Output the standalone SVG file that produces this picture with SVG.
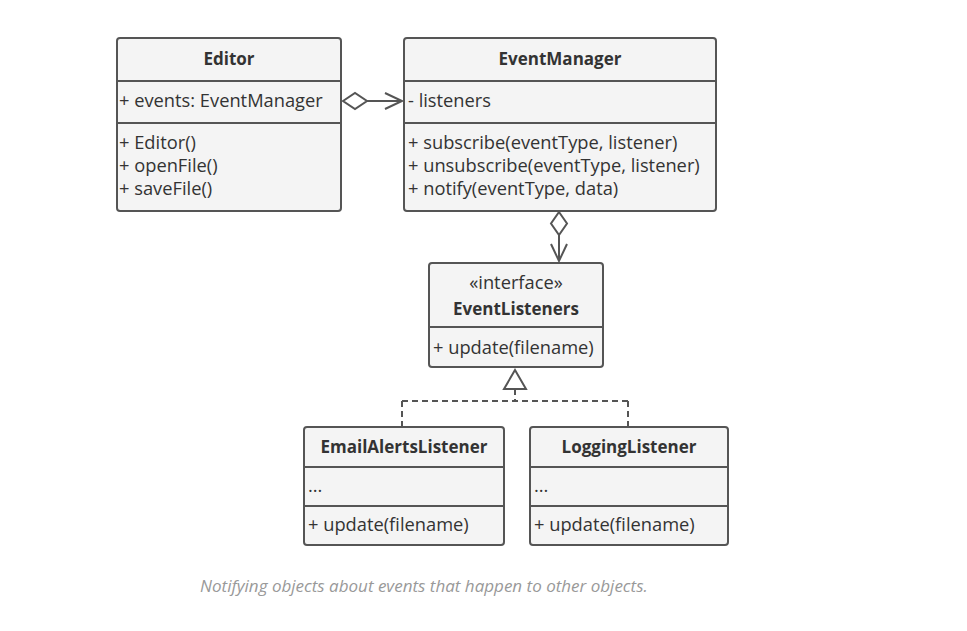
<svg xmlns="http://www.w3.org/2000/svg" width="967" height="631" viewBox="0 0 967 631">
<style>
.box{fill:#f4f4f4;stroke:#555;stroke-width:2}
.div{stroke:#555;stroke-width:2}
.t{font-family:"Open Sans","Liberation Sans",sans-serif;font-size:18.3px;fill:#333}
.b{font-weight:bold;text-anchor:middle;font-size:17px}
.c{text-anchor:middle}
.ln{fill:none;stroke:#555;stroke-width:2}
.cap{font-family:"Open Sans","Liberation Sans",sans-serif;font-size:17px;font-style:italic;fill:#999}
</style>
<rect width="967" height="631" fill="#fff"/>
<g id="Editor">
<rect class="box" x="117" y="38" width="224" height="173" rx="3"/>
<line class="div" x1="117" y1="81" x2="341" y2="81"/>
<line class="div" x1="117" y1="123" x2="341" y2="123"/>
<text class="t b" x="229" y="65">Editor</text>
<text class="t" x="119" y="107">+ events: EventManager</text>
<text class="t" x="119" y="149">+ Editor()</text>
<text class="t" x="119" y="172">+ openFile()</text>
<text class="t" x="119" y="195">+ saveFile()</text>
</g>
<g id="EventManager">
<rect class="box" x="404" y="38" width="312" height="173" rx="3"/>
<line class="div" x1="404" y1="81" x2="716" y2="81"/>
<line class="div" x1="404" y1="123" x2="716" y2="123"/>
<text class="t b" x="560" y="65">EventManager</text>
<text class="t" x="408" y="107">- listeners</text>
<text class="t" x="408" y="149">+ subscribe(eventType, listener)</text>
<text class="t" x="408" y="172">+ unsubscribe(eventType, listener)</text>
<text class="t" x="408" y="195">+ notify(eventType, data)</text>
</g>
<g id="EventListeners">
<rect class="box" x="429" y="263" width="174" height="104" rx="3"/>
<line class="div" x1="429" y1="327" x2="603" y2="327"/>
<text class="t c" x="516" y="289">«interface»</text>
<text class="t b" x="516" y="315">EventListeners</text>
<text class="t" x="433" y="354">+ update(filename)</text>
</g>
<g id="EmailAlertsListener">
<rect class="box" x="304" y="427" width="200" height="118" rx="3"/>
<line class="div" x1="304" y1="467" x2="504" y2="467"/>
<line class="div" x1="304" y1="506" x2="504" y2="506"/>
<text class="t b" x="404" y="453">EmailAlertsListener</text>
<text class="t" x="308" y="492">...</text>
<text class="t" x="308" y="531">+ update(filename)</text>
</g>
<g id="LoggingListener">
<rect class="box" x="530" y="427" width="198" height="118" rx="3"/>
<line class="div" x1="530" y1="467" x2="728" y2="467"/>
<line class="div" x1="530" y1="506" x2="728" y2="506"/>
<text class="t b" x="629" y="453">LoggingListener</text>
<text class="t" x="534" y="492">...</text>
<text class="t" x="534" y="531">+ update(filename)</text>
</g>
<g id="connectors">
<path class="ln" d="M343,101 L355,93 L367,101 L355,109 Z"/>
<path class="ln" d="M367,101 L402,101 M385,93 L402,101 L385,109"/>
<path class="ln" d="M559,212 L567,223.5 L559,235 L551,223.5 Z"/>
<path class="ln" d="M559,235 L559,261 M551,244 L559,261 L567,244"/>
<path class="ln" d="M515,370 L526,389 L504,389 Z"/>
<path class="ln" stroke-dasharray="6,4" d="M515,389 L515,401 M402,401 L628,401 M402,401 L402,426 M628,401 L628,426"/>
</g>
<text class="cap" x="200" y="592">Notifying objects about events that happen to other objects.</text>
</svg>
